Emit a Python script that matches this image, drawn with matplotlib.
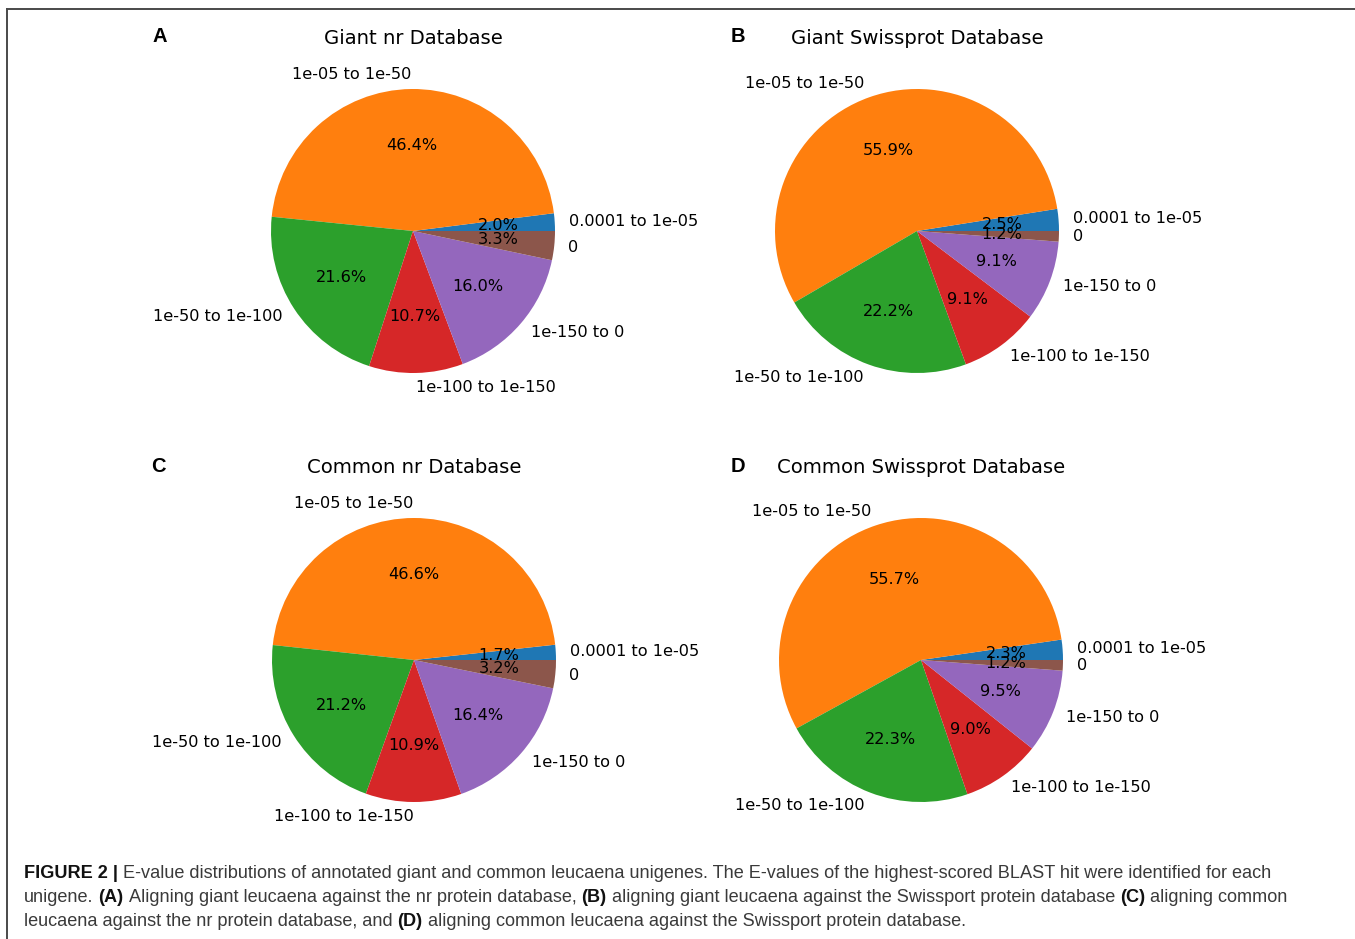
import numpy as np
import matplotlib
matplotlib.use('Agg')
import matplotlib.pyplot as plt
from matplotlib.lines import Line2D

# E-value bins, same wedge order for every panel
labels = ['0.0001 to 1e-05', '1e-05 to 1e-50', '1e-50 to 1e-100',
          '1e-100 to 1e-150', '1e-150 to 0', '0']

giant_nr = [2.0, 46.4, 21.6, 10.7, 16.0, 3.3]
giant_sp = [2.5, 55.9, 22.2, 9.1, 9.1, 1.2]
common_nr = [1.72, 46.6, 21.18, 10.9, 16.4, 3.2]
common_sp = [2.3, 55.7, 22.3, 9.0, 9.5, 1.2]

titles = ['Giant nr Database', 'Giant Swissprot Database',
          'Common nr Database', 'Common Swissprot Database']
letters = ['A', 'B', 'C', 'D']

caption_lines = [
    [('FIGURE 2 |', True),
     ('E-value distributions of annotated giant and common leucaena unigenes. '
      'The E-values of the highest-scored BLAST hit were identified for each', False)],
    [('unigene.', False), ('(A)', True),
     ('Aligning giant leucaena against the nr protein database,', False),
     ('(B)', True),
     ('aligning giant leucaena against the Swissport protein database', False),
     ('(C)', True), ('aligning common', False)],
    [('leucaena against the nr protein database, and', False), ('(D)', True),
     ('aligning common leucaena against the Swissport protein database.', False)],
]

W, H = 1355, 939
DPI = 100


def px_axes(fig, cx, cy, r):
    # square axes so that a pie of radius r px sits at (cx, cy) px (top-left origin)
    side = 2.5 * r
    return fig.add_axes([(cx - side / 2) / W, 1 - (cy + side / 2) / H,
                         side / W, side / H])


fig = plt.figure(figsize=(W / DPI, H / DPI), dpi=DPI)

# frame of the figure page
fig.add_artist(Line2D([7.5 / W, 1.0], [1 - 8.5 / H, 1 - 8.5 / H],
                      transform=fig.transFigure, color='#4a4a4a', lw=1.4))
fig.add_artist(Line2D([7.5 / W, 7.5 / W], [0.0, 1 - 8.5 / H],
                      transform=fig.transFigure, color='#4a4a4a', lw=1.4))

centers = [(413, 231), (917, 231), (414, 660), (921, 660)]
letter_pos = [(160, 36), (738, 36), (158, 467), (738, 467)]
datasets = [giant_nr, giant_sp, common_nr, common_sp]

for (cx, cy), vals, title, let, (lx, ly) in zip(centers, datasets, titles,
                                                  letters, letter_pos):
    ax = px_axes(fig, cx, cy, 142)
    wedges, texts, autotexts = ax.pie(vals, labels=labels, autopct='%1.1f%%')
    for t in texts:
        t.set_fontsize(11.6)
    for t in autotexts:
        t.set_fontsize(11.6)
    ax.set_title(title, fontsize=14.1, pad=6.5)
    fig.text(lx / W, 1 - ly / H, let, fontsize=14.5, fontweight='bold',
             family='Liberation Sans', ha='center', va='center')

# caption, drawn run by run so that bold parts sit inline
renderer = fig.canvas.get_renderer()


def run_width(s, bold, size):
    t = fig.text(0, 0, s, fontsize=size, family='Liberation Sans',
                 fontweight='bold' if bold else 'normal')
    w = t.get_window_extent(renderer).width
    t.remove()
    return w


def line_width(runs, size):
    sp = run_width('a a', False, size) - run_width('aa', False, size)
    return sum(run_width(s, b, size) for s, b in runs) + sp * (len(runs) - 1)


base = 12.0
cap_size = base * 1252 / line_width(caption_lines[0], base)
space = run_width('a a', False, cap_size) - run_width('aa', False, cap_size)

for i, runs in enumerate(caption_lines):
    x = 24
    y = 873 + i * 24.5
    for s, bold in runs:
        fig.text(x / W, 1 - y / H, s, fontsize=cap_size, family='Liberation Sans',
                 fontweight='bold' if bold else 'normal',
                 color='#111111' if bold else '#3a3a3a', ha='left', va='center')
        x += run_width(s, bold, cap_size) + space

fig.savefig('out.png', dpi=DPI)
